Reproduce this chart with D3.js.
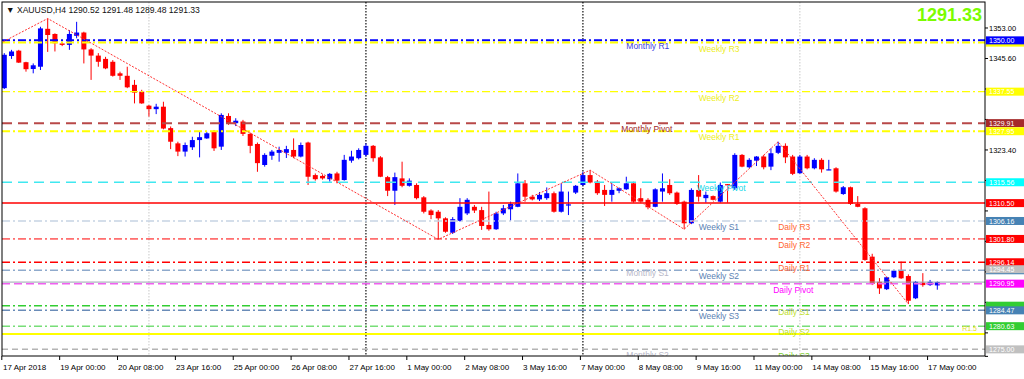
<!DOCTYPE html>
<html><head><meta charset="utf-8">
<script src="https://cdnjs.cloudflare.com/ajax/libs/d3/7.8.5/d3.min.js"></script>
<style>html,body{margin:0;padding:0;background:#fff;overflow:hidden}text{font-family:"Liberation Sans",Arial,sans-serif}</style>
</head><body><svg id="c" width="1024" height="379"></svg>
<script>
// ---------------- DATA ----------------
const symbolTitle = "XAUUSD,H4";
const titleOHLC = [1290.52, 1291.48, 1289.48, 1291.33];
const timeLabels = ["17 Apr 2018","19 Apr 00:00","20 Apr 08:00","23 Apr 16:00","25 Apr 00:00","26 Apr 08:00","27 Apr 16:00","1 May 00:00","2 May 08:00","3 May 16:00","7 May 00:00","8 May 08:00","9 May 16:00","11 May 00:00","14 May 08:00","15 May 16:00","17 May 00:00"];
const timeLabelBars = [0,8,16,24,32,40,48,56,64,72,80,88,96,104,112,120,128];
const open = [1338.4,1346.2,1347.5,1344.7,1343.05,1343.6,1352.8,1351.55,1349.25,1348.9,1351.1,1351.9,1347.8,1346.3,1345.5,1344.8,1342.0,1341.4,1339.2,1337.55,
1334.15,1333.3,1333.9,1328.7,1325.0,1323.0,1324.05,1325.8,1326.2,1327.8,1324.2,1331.65,1329.9,1330.3,1327.3,1324.85,1319.75,1322.0,1322.7,1322.7,
1323.4,1321.8,1325.2,1317.3,1317.1,1316.3,1317.7,1316.1,1320.8,1321.4,1322.2,1324.4,1321.6,1316.8,1313.5,1316.5,1314.7,1314.9,1311.9,1308.7,
1308.4,1306.8,1303.3,1306.2,1308.0,1309.6,1308.8,1305.2,1304.15,1308.0,1309.0,1309.6,1315.3,1312.05,1311.4,1311.7,1312.9,1308.4,1309.9,1313.05,
1314.9,1317.3,1315.7,1313.7,1312.5,1313.5,1313.85,1315.3,1311.7,1311.3,1309.6,1313.3,1314.9,1313.05,1310.85,1305.6,1313.7,1311.7,1312.2,1310.85,
1315.1,1314.1,1322.2,1319.2,1320.8,1321.8,1319.35,1322.7,1324.4,1321.8,1317.75,1321.8,1318.95,1321.0,1318.65,1318.95,1312.7,1314.35,1310.3,1309.25,
1297.5,1291.4,1289.6,1292.5,1294.1,1292.8,1287.4,1291.2,1290.6,1290.52];
const high = [1346.9,1347.7,1347.7,1344.8,1344.4,1353.3,1355.3,1351.7,1349.5,1352.5,1354.5,1352.1,1348.1,1346.9,1346.0,1345.2,1342.4,1343.6,1340.4,1338.0,
1334.3,1334.6,1335.1,1329.1,1325.4,1325.2,1326.6,1327.8,1327.8,1328.25,1332.3,1332.3,1331.1,1330.7,1327.6,1325.2,1322.6,1323.4,1324.2,1324.4,
1326.2,1325.2,1325.4,1317.7,1317.45,1317.8,1318.1,1322.2,1323.2,1323.8,1325.0,1324.6,1321.9,1317.1,1317.9,1320.55,1316.5,1315.3,1312.2,1309.0,
1308.8,1307.05,1307.1,1311.7,1311.7,1310.05,1309.6,1313.3,1308.4,1310.05,1310.85,1317.7,1316.1,1312.5,1313.2,1314.3,1313.3,1315.3,1313.3,1314.9,
1318.1,1318.5,1316.1,1314.9,1315.3,1314.3,1316.9,1315.7,1314.1,1311.7,1314.1,1317.7,1316.3,1313.3,1311.1,1314.1,1317.3,1313.3,1312.35,1315.5,
1315.1,1322.6,1322.4,1321.4,1321.9,1322.2,1323.8,1325.4,1325.0,1322.2,1322.2,1322.2,1321.4,1321.4,1321.0,1319.2,1314.65,1314.5,1312.2,1309.5,
1298.2,1292.3,1292.65,1294.3,1296.3,1293.2,1291.6,1293.5,1291.85,1291.48];
const low = [1338.2,1345.5,1344.5,1342.4,1342.0,1342.8,1347.2,1347.3,1348.6,1347.7,1350.5,1344.4,1340.4,1343.6,1343.0,1341.2,1340.4,1338.4,1334.7,1334.6,
1331.5,1332.1,1328.4,1323.6,1321.9,1321.8,1323.4,1321.6,1326.1,1323.15,1323.4,1329.5,1329.2,1326.8,1322.6,1318.1,1319.35,1321.0,1320.55,1321.45,
1321.4,1321.6,1314.9,1315.95,1316.2,1315.7,1315.3,1315.95,1320.3,1321.1,1321.8,1320.55,1316.8,1312.2,1310.05,1314.35,1314.5,1311.4,1308.0,1306.6,
1301.7,1303.3,1303.0,1306.0,1307.6,1308.1,1304.0,1303.8,1304.0,1307.6,1306.2,1309.5,1310.85,1311.15,1311.0,1311.3,1308.2,1308.2,1307.6,1312.7,
1314.7,1315.3,1312.5,1309.8,1310.85,1312.9,1313.7,1310.6,1310.5,1309.0,1309.5,1310.85,1312.5,1310.05,1304.15,1305.4,1310.85,1310.6,1311.15,1310.6,
1310.6,1313.7,1319.2,1318.95,1319.5,1318.7,1318.5,1322.4,1320.2,1317.3,1317.6,1318.7,1318.7,1317.9,1318.5,1313.05,1312.5,1310.05,1309.5,1296.5,
1290.6,1288.45,1289.4,1292.3,1292.1,1286.0,1287.2,1290.2,1290.4,1289.48];
const close = [1346.5,1347.3,1344.6,1343.0,1343.95,1352.9,1351.3,1349.3,1348.9,1351.55,1351.9,1347.8,1346.3,1344.8,1343.2,1341.4,1341.4,1338.6,1337.3,1334.7,
1333.3,1333.9,1328.6,1325.4,1323.0,1324.6,1325.8,1326.5,1327.45,1323.8,1331.9,1329.7,1330.5,1327.3,1324.4,1320.2,1322.2,1323.0,1323.4,1323.6,
1321.8,1324.6,1316.9,1316.3,1316.5,1317.6,1315.95,1321.0,1321.8,1323.4,1324.4,1321.4,1316.9,1313.5,1316.8,1314.7,1315.95,1311.7,1308.4,1307.6,
1306.8,1303.55,1306.6,1309.6,1311.3,1308.7,1304.95,1304.15,1308.0,1309.25,1310.3,1315.3,1312.05,1311.4,1312.5,1312.9,1308.4,1313.3,1310.2,1314.7,
1317.3,1315.5,1312.9,1312.5,1313.7,1314.1,1315.3,1310.85,1310.85,1309.5,1313.85,1314.1,1312.9,1310.3,1305.6,1313.7,1312.05,1312.5,1311.3,1314.9,
1315.0,1322.2,1319.35,1321.0,1321.8,1319.2,1322.6,1324.4,1321.6,1317.6,1321.8,1318.95,1321.0,1318.7,1318.7,1313.3,1314.35,1310.3,1309.6,1296.7,
1290.9,1289.8,1292.5,1294.1,1292.25,1286.8,1291.4,1290.6,1291.4,1291.33];
const zigzagBars = [-1, 6, 60, 81, 94, 107, 125];
const zigzagPrices = [1348.9, 1355.3, 1301.7, 1318.5, 1304.15, 1325.4, 1286.0];
const separatorBars = [20, 50, 80, 110];
const levelNames = ["Monthly R1","Weekly R3","Weekly R2","Monthly Pivot","Weekly R1","Weekly Pivot","Line","Weekly S1","Daily R3","Daily R2","Daily R1","Monthly S1","Weekly S2","Daily Pivot","Daily S1","Weekly S3","Daily S2","Level 1.5","Monthly S2","Daily S3"];
const levelPrices = [1350.00,1349.45,1337.55,1329.91,1327.95,1315.56,1310.50,1306.16,1306.10,1301.80,1296.14,1294.45,1294.20,1290.95,1285.60,1284.47,1280.63,1278.70,1275.00,1274.95];
const priceTicks = [1353.00,1345.60,1338.20,1330.80,1323.40,1316.00,1308.60,1301.20,1293.80,1286.40,1279.00,1273.30];
const sideNote = "R1.5";

// ---------------- STYLES ----------------
const DD = "8,3,2,3";
const lineStyle = {
 "Monthly R1":   {stroke:"#0000ff", w:2,   dash:DD, box:"#0000ff", text:"#4040e0", col:"M"},
 "Weekly R3":    {stroke:"#ffff00", w:2,   dash:DD, box:"#ffff00", text:"#eeee22", col:"W", z:-1, boxNoText:true},
 "Weekly R2":    {stroke:"#ffff00", w:1.2, dash:DD, box:"#ffff00", text:"#eeee22", col:"W"},
 "Monthly Pivot":{stroke:"#b84848", w:2,   dash:"10,6", box:"#a52a2a", text:"#a02828", col:"M", dx:-5},
 "Weekly R1":    {stroke:"#ffff00", w:2,   dash:DD, box:"#ffff00", text:"#eeee22", col:"W"},
 "Weekly Pivot": {stroke:"#40e8f0", w:1.5, dash:"10,6", box:"#00ffff", text:"#20d8e8", col:"W", dx:-2},
 "Line":         {stroke:"#ff0000", w:1.5, dash:null, box:"#ff0000"},
 "Weekly S1":    {stroke:"#c6d4e4", w:1.5, dash:DD, box:"#4682b4", text:"#5a82b4", col:"W"},
 "Daily R3":     {text:"#ff6633", col:"D", noLine:true},
 "Daily R2":     {stroke:"#ff0000", w:1,   dash:DD, box:"#ff0000", text:"#ff6633", col:"D"},
 "Daily R1":     {stroke:"#ff0000", w:1.5, dash:DD, box:"#ff0000", text:"#ff6633", col:"D"},
 "Weekly S2":    {stroke:"#8faacc", w:1.5, dash:DD, box:"#4682b4", text:"#5a82b4", col:"W", z:-1, boxNoText:true},
 "Monthly S1":   {box:"#c0c0c0", text:"#b8b8c8", col:"M", noLine:true, ty:-2},
 "Daily Pivot":  {stroke:"#f060f0", w:1.5, dash:"8,4", box:"#ff00ff", text:"#ff00ff", col:"D", dx:-5},
 "Daily S1":     {stroke:"#32cd32", w:1.5, dash:DD, box:"#32cd32", text:"#c0e030", col:"D", boxNoText:true},
 "Weekly S3":    {stroke:"#6a8cb8", w:1.5, dash:DD, box:"#4682b4", text:"#5a82b4", col:"W"},
 "Daily S2":     {stroke:"#32cd32", w:1,   dash:DD, box:"#32cd32", text:"#b8e030", col:"D"},
 "Level 1.5":    {stroke:"#ffff00", w:2,   dash:null},
 "Monthly S2":   {stroke:"#b4b4b4", w:1.5, dash:"6,4", box:"#c0c0c0", text:"#b8b8c8", col:"M"},
 "Daily S3":     {text:"#80d030", col:"D", noLine:true}
};
const colBar = {M:86, W:96, D:107};
const sepColors = ["#c8c8c8","#222","#222","#c8c8c8"];

// ---------------- CHART ----------------
const svg = d3.select("#c");
const L=2, T=2, R=985, B=356;
const x = d3.scaleLinear().domain([0,129]).range([4.3,937.3]);
const y = d3.scaleLinear().domain([1273.39,1359.31]).range([B,T]);

svg.append("defs").append("clipPath").attr("id","pc")
  .append("rect").attr("x",L).attr("y",T).attr("width",R-L).attr("height",B-T);
const plot = svg.append("g").attr("clip-path","url(#pc)");

// separators
plot.selectAll("line.sep").data(separatorBars).join("line")
  .attr("x1",d=>x(d)).attr("x2",d=>x(d)).attr("y1",T).attr("y2",B)
  .attr("stroke",(d,i)=>sepColors[i]).attr("stroke-width",(d,i)=>sepColors[i]==="#222"?1.3:1)
  .attr("stroke-dasharray","1.5,1.5");

// candles
const bars = d3.range(open.length).map(i=>({i,o:open[i],h:high[i],l:low[i],c:close[i]}));
const cg = plot.append("g");
cg.selectAll("line.wick").data(bars).join("line")
  .attr("x1",d=>x(d.i)).attr("x2",d=>x(d.i)).attr("y1",d=>y(d.h)).attr("y2",d=>y(d.l))
  .attr("stroke",d=>d.c>=d.o?"#0000ff":"#ff0000").attr("stroke-width",1);
cg.selectAll("rect.body").data(bars).join("rect")
  .attr("x",d=>x(d.i)-2.5).attr("width",5)
  .attr("y",d=>Math.min(y(d.o),y(d.c)))
  .attr("height",d=>Math.max(1.2,Math.abs(y(d.o)-y(d.c))))
  .attr("fill",d=>d.c>=d.o?"#0000ff":"#ff0000");

// horizontal level lines
const levels = levelNames.map((n,i)=>({n,p:levelPrices[i],s:lineStyle[n]}));
plot.selectAll("line.lvl").data(levels.filter(d=>!d.s.noLine && d.s.stroke)).join("line")
  .attr("x1",L).attr("x2",R).attr("y1",d=>y(d.p)).attr("y2",d=>y(d.p))
  .attr("stroke",d=>d.s.stroke).attr("stroke-width",d=>d.s.w)
  .attr("stroke-dasharray",d=>d.s.dash);

// bid line
const last = close[close.length-1];
plot.append("line").attr("x1",L).attr("x2",R).attr("y1",y(last)).attr("y2",y(last))
  .attr("stroke","#9aa4b0").attr("stroke-width",1);

// zigzag
plot.append("path")
  .attr("d",d3.line().x(d=>x(d[0])).y(d=>y(d[1]))(zigzagBars.map((b,i)=>[b,zigzagPrices[i]])))
  .attr("fill","none").attr("stroke","#ff3030").attr("stroke-width",1).attr("stroke-dasharray","2,1.5");

// level labels
plot.selectAll("text.lbl").data(levels.filter(d=>d.s.col)).join("text")
  .attr("x",d=>x(colBar[d.s.col])+(d.s.dx||0)).attr("y",d=>y(d.p)+9+(d.s.ty||0))
  .attr("fill",d=>d.s.text).attr("font-size","8.5px").text(d=>d.n);

// side note on yellow line
plot.append("text").attr("x",R-8).attr("y",y(levelPrices[levelNames.indexOf("Level 1.5")])-3)
  .attr("text-anchor","end").attr("fill","#e8e020").attr("font-size","7px").text(sideNote);

// frame
svg.append("rect").attr("x",L).attr("y",T).attr("width",R-L).attr("height",B-T)
  .attr("fill","none").attr("stroke","#000").attr("stroke-width",1);

// title
svg.append("text").attr("x",6).attr("y",13).attr("font-size","8.6px").attr("fill","#111")
  .text("\u25BC " + symbolTitle + "  " + titleOHLC.map(v=>v.toFixed(2)).join(" "));
// big price
svg.append("text").attr("x",982).attr("y",21).attr("text-anchor","end")
  .attr("font-size","18px").attr("font-weight","bold").attr("fill","#7cfc00")
  .text(last.toFixed(2));

// time axis
const tg = svg.append("g");
tg.selectAll("line").data(timeLabelBars).join("line")
  .attr("x1",d=>x(d)-2.5).attr("x2",d=>x(d)-2.5).attr("y1",B).attr("y2",B+4)
  .attr("stroke","#000");
tg.selectAll("text").data(timeLabels).join("text")
  .attr("x",(d,i)=>Math.max(3,x(timeLabelBars[i])-2)).attr("y",370)
  .attr("font-size","8px").attr("fill","#000").text(d=>d);

// price axis ticks (labels hidden behind a price box are not written)
const levelsWithBox = levels.filter(d=>d.s.box);
const pg = svg.append("g");
pg.selectAll("line").data(priceTicks).join("line")
  .attr("x1",R).attr("x2",R+3).attr("y1",d=>y(d)).attr("y2",d=>y(d)).attr("stroke","#000");
const freeTicks = priceTicks.filter(t=>!levelsWithBox.some(b=>Math.abs(y(b.p)-y(t))<9.5));
pg.selectAll("text").data(freeTicks).join("text")
  .attr("x",989).attr("y",d=>Math.min(y(d)+3,B+2)).attr("font-size","7.5px").attr("fill","#000")
  .text(d=>d.toFixed(2));

// price boxes (boxes mostly covered by a neighbour show no text)
const bg = svg.append("g");
levelsWithBox.slice().sort((a,b)=>(a.s.z||0)-(b.s.z||0)).forEach(d=>{
  const yy = y(d.p);
  bg.append("rect").attr("x",986).attr("y",yy-4).attr("width",38).attr("height",8).attr("fill",d.s.box);
  if (!d.s.boxNoText)
    bg.append("text").attr("x",989).attr("y",yy+2.6).attr("font-size","7px").attr("fill","#fff").text(d.p.toFixed(2));
});
</script></body></html>
